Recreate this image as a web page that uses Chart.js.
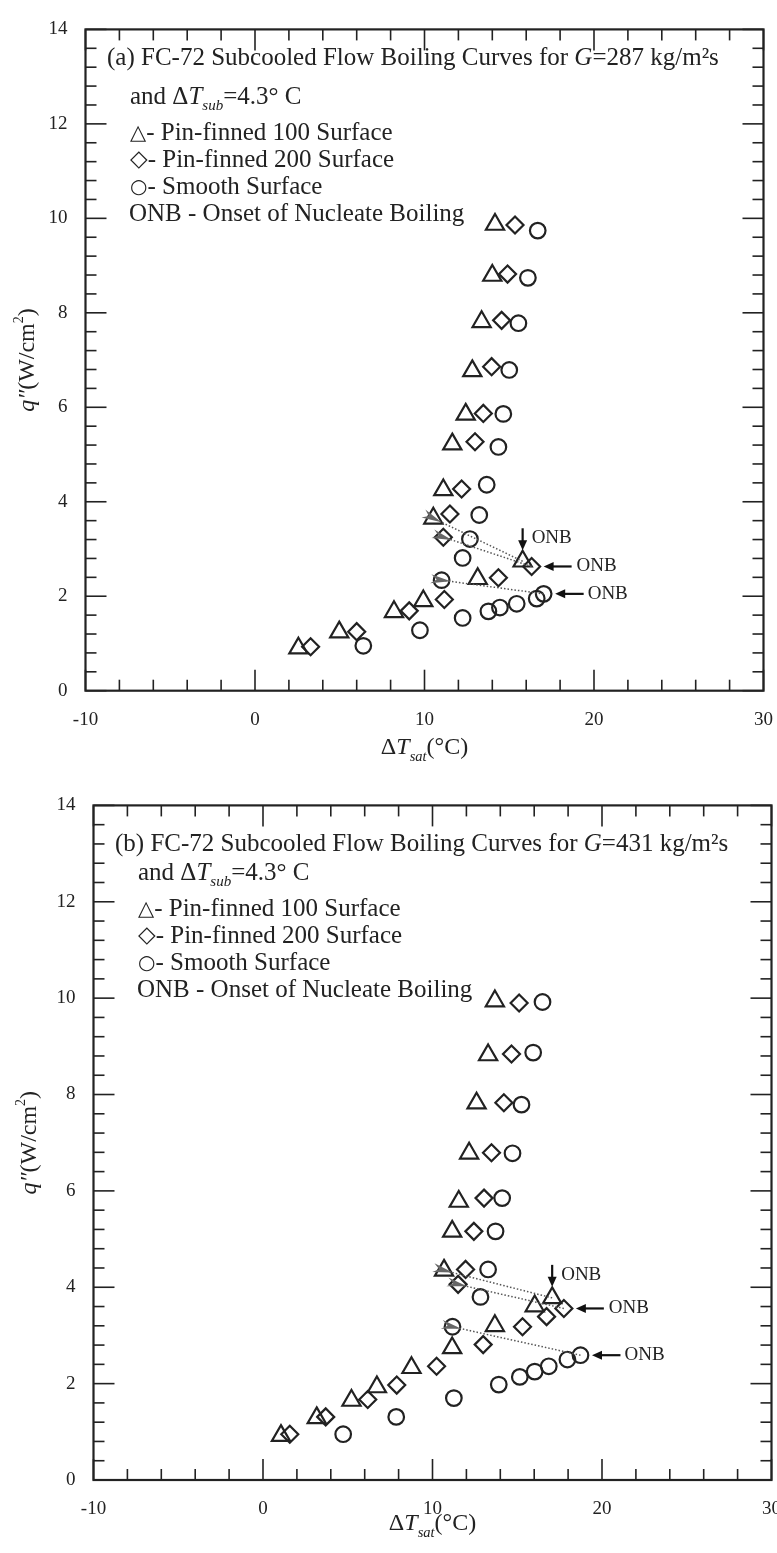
<!DOCTYPE html>
<html>
<head>
<meta charset="utf-8">
<script src="https://cdn.jsdelivr.net/npm/chart.js@4.4.0/dist/chart.umd.min.js"></script>
<style>
  html, body { margin: 0; padding: 0; background: #fff; overflow: hidden; }
  .page { position: relative; width: 777px; height: 1553px; overflow: hidden; }
  .plot { position: absolute; left: 0; }
  #chart-a { top: 0; }
  #chart-b { top: 776px; }
</style>
</head>
<body>
<div class="page">
  <canvas id="chart-a" class="plot" width="800" height="776"></canvas>
  <canvas id="chart-b" class="plot" width="800" height="777"></canvas>
</div>
<script>
// axis tick labels (major ticks), minor ticks come from the step sizes
const xMajorTicks = [-10, 0, 10, 20, 30];
const yMajorTicks = [0, 2, 4, 6, 8, 10, 12, 14];

// (a) G=287 kg/m2s  -- wall superheat (C) and heat flux (W/cm2)
const aPin100X = [2.56, 4.97, 8.20, 9.93, 13.14, 15.79, 10.52, 11.11, 11.64, 12.43, 12.82, 13.37, 14.00, 14.16];
const aPin100Y = [0.90, 1.24, 1.67, 1.90, 2.37, 2.74, 3.65, 4.25, 5.22, 5.85, 6.77, 7.81, 8.79, 9.87];
const aPin200X = [3.28, 6.00, 9.10, 11.17, 14.36, 16.32, 11.11, 11.50, 12.19, 12.98, 13.47, 13.96, 14.55, 14.90, 15.34];
const aPin200Y = [0.93, 1.25, 1.69, 1.93, 2.39, 2.63, 3.25, 3.74, 4.27, 5.27, 5.87, 6.86, 7.84, 8.82, 9.86];
const aSmoothX = [6.39, 9.73, 12.25, 13.77, 14.45, 15.44, 16.62, 17.03, 11.01, 12.25, 12.68, 13.23, 13.67, 14.36, 14.65, 15.00, 15.54, 16.10, 16.68];
const aSmoothY = [0.95, 1.28, 1.54, 1.68, 1.76, 1.84, 1.95, 2.05, 2.34, 2.81, 3.21, 3.72, 4.36, 5.16, 5.86, 6.79, 7.78, 8.74, 9.74];
// index of the ONB point and of the point it jumps to
const aOnb = { pin100: [5, 6], pin200: [5, 6], smooth: [7, 8] };

// (b) G=431 kg/m2s
const bPin100X = [1.06, 3.17, 5.22, 6.72, 8.76, 11.16, 13.68, 16.03, 17.06, 10.68, 11.16, 11.55, 12.16, 12.60, 13.28, 13.68];
const bPin100Y = [0.92, 1.29, 1.65, 1.93, 2.33, 2.74, 3.20, 3.61, 3.78, 4.35, 5.16, 5.78, 6.78, 7.82, 8.82, 9.94];
const bPin200X = [1.58, 3.70, 6.18, 7.89, 10.24, 12.99, 15.31, 16.73, 17.75, 11.51, 11.95, 12.44, 13.04, 13.48, 14.21, 14.66, 15.11];
const bPin200Y = [0.95, 1.31, 1.67, 1.97, 2.36, 2.81, 3.18, 3.39, 3.56, 4.06, 4.37, 5.16, 5.85, 6.79, 7.83, 8.84, 9.90];
const bSmoothX = [4.73, 7.86, 11.26, 13.91, 15.15, 16.03, 16.86, 17.96, 18.73, 11.18, 12.83, 13.28, 13.72, 14.11, 14.72, 15.25, 15.94, 16.49];
const bSmoothY = [0.95, 1.31, 1.70, 1.98, 2.14, 2.25, 2.36, 2.50, 2.59, 3.18, 3.80, 4.37, 5.16, 5.85, 6.78, 7.79, 8.87, 9.92];
const bOnb = { pin100: [8, 9], pin200: [8, 9], smooth: [8, 9] };

const SERIF = '"Liberation Serif", "Times New Roman", serif';
const SYMBOLS = '"DejaVu Sans", sans-serif';
const INK = '#222';

// Function to zip x/y arrays into scatter points
function toPoints(xs, ys) {
  return xs.map((x, i) => ({ x: x, y: ys[i] }));
}

function isMajor(list, v) {
  return list.some(t => Math.abs(t - v) < 1e-6);
}

function line(ctx, x0, y0, x1, y1) {
  ctx.beginPath();
  ctx.moveTo(x0, y0);
  ctx.lineTo(x1, y1);
  ctx.stroke();
}

function fontOf(p) {
  return (p.it ? 'italic ' : '') + (p.size || 25) + 'px ' + (p.family || SERIF);
}

// Function to draw text made of several styled pieces
function drawRich(ctx, x, y, parts) {
  parts.forEach(p => {
    ctx.font = fontOf(p);
    ctx.fillText(p.t, x, y + (p.dy || 0));
    x += ctx.measureText(p.t).width;
  });
}

function richWidth(ctx, parts) {
  let w = 0;
  parts.forEach(p => {
    ctx.font = fontOf(p);
    w += ctx.measureText(p.t).width;
  });
  return w;
}

// black ONB pointer arrow (tail -> tip)
function drawPointer(ctx, x0, y0, x1, y1) {
  const ang = Math.atan2(y1 - y0, x1 - x0);
  const c = Math.cos(ang), s = Math.sin(ang);
  ctx.strokeStyle = '#111';
  ctx.fillStyle = '#111';
  ctx.lineWidth = 2.2;
  line(ctx, x0, y0, x1 - c * 6, y1 - s * 6);
  ctx.beginPath();
  ctx.moveTo(x1, y1);
  ctx.lineTo(x1 - c * 10 - s * 4.5, y1 - s * 10 + c * 4.5);
  ctx.lineTo(x1 - c * 10 + s * 4.5, y1 - s * 10 - c * 4.5);
  ctx.closePath();
  ctx.fill();
}

// grey dotted jump from the ONB point back to the boiling curve
function drawJump(ctx, x0, y0, x1, y1) {
  const ang = Math.atan2(y1 - y0, x1 - x0);
  const c = Math.cos(ang), s = Math.sin(ang);
  const tx = x1 - c * 9, ty = y1 - s * 9;
  ctx.strokeStyle = '#555';
  ctx.lineWidth = 1.5;
  ctx.setLineDash([1.5, 2]);
  line(ctx, x0, y0, tx + c * 12, ty + s * 12);
  ctx.setLineDash([]);
  ctx.fillStyle = '#666';
  ctx.beginPath();
  ctx.moveTo(tx, ty);
  ctx.lineTo(tx + c * 20 - s * 4.5, ty + s * 20 + c * 4.5);
  ctx.lineTo(tx + c * 14, ty + s * 14);
  ctx.lineTo(tx + c * 20 + s * 4.5, ty + s * 20 - c * 4.5);
  ctx.closePath();
  ctx.fill();
}

// Function to build the frame / ticks / labels plugin for one panel
function makeDecor(cfg) {
  return {
    id: 'boilingDecor',
    afterDraw(chart) {
      const { ctx, chartArea: a, scales: { x, y } } = chart;
      ctx.save();

      // inward ticks on all four sides
      ctx.strokeStyle = INK;
      ctx.lineWidth = 1.6;
      x.ticks.forEach(t => {
        const px = x.getPixelForValue(t.value);
        const len = isMajor(xMajorTicks, t.value) ? 21 : 11;
        line(ctx, px, a.bottom, px, a.bottom - len);
        line(ctx, px, a.top, px, a.top + len);
      });
      y.ticks.forEach(t => {
        const py = y.getPixelForValue(t.value);
        const len = isMajor(yMajorTicks, t.value) ? 21 : 11;
        line(ctx, a.left, py, a.left + len, py);
        line(ctx, a.right, py, a.right - len, py);
      });
      ctx.lineWidth = 2.2;
      ctx.strokeRect(a.left, a.top, a.right - a.left, a.bottom - a.top);

      // jumps at the onset of nucleate boiling
      const sets = [['pin100', 0], ['pin200', 1], ['smooth', 2]];
      sets.forEach(([key, di]) => {
        const pts = chart.getDatasetMeta(di).data;
        const [from, to] = cfg.onb[key];
        drawJump(ctx, pts[from].x, pts[from].y, pts[to].x, pts[to].y);
      });

      // ONB pointers
      ctx.textBaseline = 'middle';
      ctx.textAlign = 'left';
      const p1 = chart.getDatasetMeta(0).data[cfg.onb.pin100[0]];
      drawPointer(ctx, p1.x, p1.y - 33, p1.x, p1.y - 11);
      ctx.fillStyle = INK;
      ctx.font = '19px ' + SERIF;
      ctx.fillText('ONB', p1.x + 9, p1.y - 23);
      const p2 = chart.getDatasetMeta(1).data[cfg.onb.pin200[0]];
      drawPointer(ctx, p2.x + 40, p2.y, p2.x + 12, p2.y);
      ctx.fillStyle = INK;
      ctx.fillText('ONB', p2.x + 45, p2.y);
      const p3 = chart.getDatasetMeta(2).data[cfg.onb.smooth[0]];
      drawPointer(ctx, p3.x + 40, p3.y, p3.x + 11.5, p3.y);
      ctx.fillStyle = INK;
      ctx.fillText('ONB', p3.x + 44, p3.y);

      // legend text block
      ctx.textBaseline = 'alphabetic';
      ctx.fillStyle = INK;
      drawRich(ctx, a.left + 21.5, a.top + cfg.titleY, [
        { t: cfg.panel + ' FC-72 Subcooled Flow Boiling Curves for ' },
        { t: 'G', it: true },
        { t: '=' + cfg.flux + ' kg/m²s' }
      ]);
      const lx = a.left + 44.5;
      drawRich(ctx, lx, a.top + 75, [
        { t: 'and Δ' }, { t: 'T', it: true },
        { t: 'sub', it: true, size: 15, dy: 6 }, { t: '=4.3° C' }
      ]);
      drawRich(ctx, lx, a.top + 110.5, [{ t: '△', size: 21, family: SYMBOLS, dy: -1 }, { t: '- Pin-finned 100 Surface' }]);
      drawRich(ctx, lx, a.top + 138, [{ t: '◇', size: 23, family: SYMBOLS, dy: -1 }, { t: '- Pin-finned 200 Surface' }]);
      drawRich(ctx, lx, a.top + 165, [{ t: '○', size: 20, family: SYMBOLS, dy: -1 }, { t: '- Smooth Surface' }]);
      drawRich(ctx, lx - 1, a.top + 192, [{ t: 'ONB - Onset of Nucleate Boiling' }]);

      // x axis title
      const xt = [
        { t: 'Δ', size: 24 }, { t: 'T', it: true, size: 24 },
        { t: 'sat', it: true, size: 14.5, dy: 7 }, { t: '(°C)', size: 24 }
      ];
      const cx = (a.left + a.right) / 2;
      drawRich(ctx, cx - richWidth(ctx, xt) / 2, a.bottom + cfg.xTitleY, xt);

      // y axis title, rotated
      const yt = [
        { t: 'q', it: true, size: 24 }, { t: '″', it: true, size: 24 },
        { t: '(W/cm', size: 24 }, { t: '2', size: 14, dy: -9 }, { t: ')', size: 24 }
      ];
      ctx.translate(cfg.yTitleX, (a.top + a.bottom) / 2);
      ctx.rotate(-Math.PI / 2);
      ctx.textBaseline = 'middle';
      drawRich(ctx, -richWidth(ctx, yt) / 2, 0, yt);

      ctx.restore();
    }
  };
}

function makeSet(label, points, style, radius) {
  return {
    label: label,
    data: points,
    pointStyle: style,
    pointRadius: radius,
    pointHoverRadius: radius,
    borderColor: INK,
    backgroundColor: 'rgba(0,0,0,0)',
    pointBorderWidth: 2.2,
    showLine: false
  };
}

// Function to create one boiling-curve panel
function createChart(canvasId, cfg) {
  const canvas = document.getElementById(canvasId);
  const ctx = canvas.getContext('2d');
  return new Chart(ctx, {
    type: 'scatter',
    data: {
      datasets: [
        makeSet('Pin-finned 100 Surface', cfg.pin100, 'triangle', 10.5),
        makeSet('Pin-finned 200 Surface', cfg.pin200, 'rectRot', 8.5),
        makeSet('Smooth Surface', cfg.smooth, 'circle', 7.8)
      ]
    },
    options: {
      responsive: false,
      animation: false,
      layout: { padding: { top: cfg.top, left: 0, right: canvas.width - cfg.right, bottom: 0 } },
      plugins: { legend: { display: false }, tooltip: { enabled: false } },
      scales: {
        x: {
          type: 'linear',
          min: -10,
          max: 30,
          grid: { display: false, drawTicks: false },
          border: { display: false },
          ticks: {
            stepSize: 2,
            autoSkip: false,
            maxRotation: 0,
            padding: 18,
            color: INK,
            font: { family: SERIF, size: 19 },
            callback: v => (isMajor(xMajorTicks, v) ? String(Math.round(v)) : '')
          },
          afterFit: s => { s.height = canvas.height - cfg.bottom; }
        },
        y: {
          type: 'linear',
          min: 0,
          max: 14,
          grid: { display: false, drawTicks: false },
          border: { display: false },
          ticks: {
            stepSize: 0.4,
            autoSkip: false,
            padding: 18,
            color: INK,
            font: { family: SERIF, size: 19 },
            callback: v => (isMajor(yMajorTicks, v) ? String(Math.round(v)) : '')
          },
          afterFit: s => { s.width = cfg.left; }
        }
      }
    },
    plugins: [makeDecor(cfg)]
  });
}

const chartA = createChart('chart-a', {
  panel: '(a)', flux: '287',
  pin100: toPoints(aPin100X, aPin100Y),
  pin200: toPoints(aPin200X, aPin200Y),
  smooth: toPoints(aSmoothX, aSmoothY),
  onb: aOnb,
  top: 13.3, left: 85.5, right: 763.5, bottom: 690.7,
  titleY: 36, xTitleY: 63, yTitleX: 28
});

const chartB = createChart('chart-b', {
  panel: '(b)', flux: '431',
  pin100: toPoints(bPin100X, bPin100Y),
  pin200: toPoints(bPin200X, bPin200Y),
  smooth: toPoints(bSmoothX, bSmoothY),
  onb: bOnb,
  top: 24.7, left: 93.5, right: 771.5, bottom: 704,
  titleY: 46, xTitleY: 50, yTitleX: 30
});
</script>
</body>
</html>
